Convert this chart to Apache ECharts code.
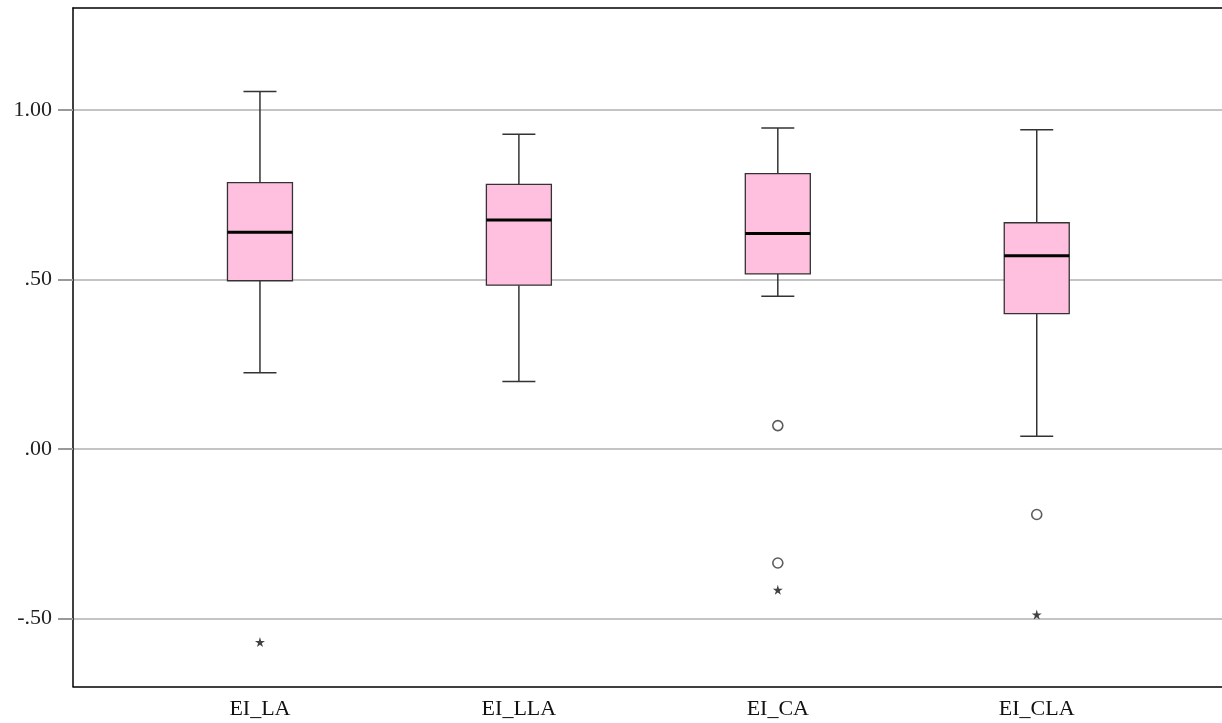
<!DOCTYPE html>
<html>
<head>
<meta charset="utf-8">
<script src="https://cdn.jsdelivr.net/npm/echarts@6/dist/echarts.min.js"></script>
<style>
  html, body { margin: 0; padding: 0; background: #fff; }
  #chart { width: 1222px; height: 723px; }
</style>
</head>
<body>
<div id="chart"></div>
<script>
// box statistics
var categories = ["EI_LA", "EI_LLA", "EI_CA", "EI_CLA"];
var lows = [0.225, 0.199, 0.450, 0.038];
var q1s = [0.496, 0.483, 0.516, 0.399];
var medians = [0.639, 0.675, 0.635, 0.570];
var q3s = [0.785, 0.780, 0.812, 0.667];
var highs = [1.054, 0.928, 0.946, 0.941];
// outliers: [category index, value]
var circleOutliers = [[2, 0.069], [2, -0.336], [3, -0.193]];
var starOutliers = [[0, -0.569], [2, -0.415], [3, -0.488]];
var yTicks = [-0.5, 0, 0.5, 1];
var yMin = -0.7, yMax = 1.3;

var starPath = "path://M50,0 L61,35 L98,35 L68,57 L79,91 L50,70 L21,91 L32,57 L2,35 L39,35 Z";
var font = "Liberation Serif";

var boxData = categories.map(function (c, i) {
  return [i, lows[i], q1s[i], medians[i], q3s[i], highs[i]];
});

function fmt(v) {
  return v.toFixed(2).replace(/^(-?)0\./, "$1.");
}

function renderBox(params, api) {
  var i = api.value(0);
  var low = api.coord([i, api.value(1)]);
  var q1 = api.coord([i, api.value(2)]);
  var med = api.coord([i, api.value(3)]);
  var q3 = api.coord([i, api.value(4)]);
  var high = api.coord([i, api.value(5)]);
  var x = low[0];
  var hw = 32.5, cw = 16.5;
  var lineStyle = { stroke: "#333", lineWidth: 1.5 };
  return {
    type: "group",
    children: [
      { type: "line", shape: { x1: x, y1: high[1], x2: x, y2: q3[1] }, style: lineStyle },
      { type: "line", shape: { x1: x, y1: q1[1], x2: x, y2: low[1] }, style: lineStyle },
      { type: "line", shape: { x1: x - cw, y1: high[1], x2: x + cw, y2: high[1] }, style: lineStyle },
      { type: "line", shape: { x1: x - cw, y1: low[1], x2: x + cw, y2: low[1] }, style: lineStyle },
      { type: "rect", shape: { x: x - hw, y: q3[1], width: hw * 2, height: q1[1] - q3[1] },
        style: { fill: "#ffc0e0", stroke: "#333", lineWidth: 1.3 } },
      { type: "line", shape: { x1: x - hw, y1: med[1], x2: x + hw, y2: med[1] },
        style: { stroke: "#000", lineWidth: 3 } }
    ]
  };
}

var chart = echarts.init(document.getElementById("chart"));
var option = {
  animation: false,
  grid: [
    { left: 73, right: 0, top: 8, bottom: 36.5 },
    { left: 130.5, right: 55.8, top: 8, bottom: 36.5 }
  ],
  xAxis: [
    { gridIndex: 0, type: "value", min: 0, max: 1, position: "bottom",
      axisLine: { show: true, onZero: false, lineStyle: { color: "#000", width: 1.5 } },
      axisTick: { show: false }, axisLabel: { show: false }, splitLine: { show: false } },
    { gridIndex: 0, type: "value", min: 0, max: 1, position: "top",
      axisLine: { show: true, onZero: false, lineStyle: { color: "#000", width: 1.5 } },
      axisTick: { show: false }, axisLabel: { show: false }, splitLine: { show: false } },
    { gridIndex: 1, type: "category", data: categories, boundaryGap: true,
      axisLine: { show: false }, axisTick: { show: false },
      axisLabel: { margin: 12, fontFamily: font, fontSize: 22, color: "#111" } }
  ],
  yAxis: [
    { gridIndex: 0, type: "value", min: yMin, max: yMax,
      axisLine: { show: true, onZero: false, lineStyle: { color: "#000", width: 1.5 } },
      axisTick: { show: true, customValues: yTicks, length: 15, lineStyle: { color: "#999", width: 2 } },
      axisLabel: { customValues: yTicks, margin: 21, fontFamily: font, fontSize: 22, color: "#222", formatter: fmt },
      splitLine: { show: true, lineStyle: { color: "#b0b0b0", width: 1.5 } } },
    { gridIndex: 1, type: "value", min: yMin, max: yMax, show: false, splitLine: { show: false } }
  ],
  series: [
    { type: "custom", xAxisIndex: 2, yAxisIndex: 1, renderItem: renderBox,
      encode: { x: 0, y: [1, 2, 3, 4, 5] }, data: boxData, z: 3 },
    { type: "scatter", xAxisIndex: 2, yAxisIndex: 1, data: circleOutliers,
      symbol: "circle", symbolSize: 10,
      itemStyle: { color: "#fff", borderColor: "#333", borderWidth: 1.6 }, z: 4 },
    { type: "scatter", xAxisIndex: 2, yAxisIndex: 1, data: starOutliers,
      symbol: starPath, symbolSize: 10,
      itemStyle: { color: "#111" }, z: 4 }
  ]
};
chart.setOption(option);
</script>
</body>
</html>
